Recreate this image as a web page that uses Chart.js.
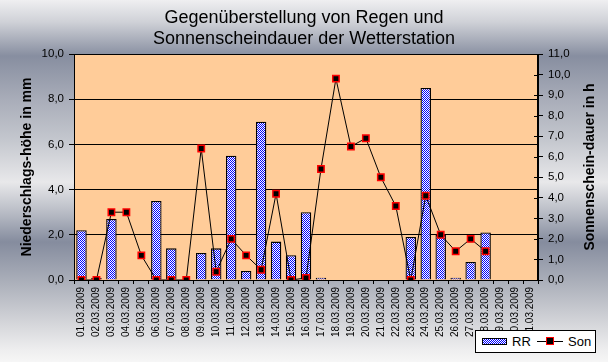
<!DOCTYPE html>
<html>
<head>
<meta charset="utf-8">
<script src="https://cdn.jsdelivr.net/npm/chart.js@4/dist/chart.umd.min.js"></script>
<style>
  html, body { margin: 0; padding: 0; }
  body {
    width: 608px; height: 362px; overflow: hidden; position: relative;
    background: linear-gradient(to bottom,
      #efeff1 0px, #cfd1d7 22px, #878ea0 56px, #a9adb9 100px, #c4c7ce 140px,
      #e8e8ea 182px, #b4b8c2 215px, #858c9e 242px, #aeb2bc 285px,
      #d6d7db 325px, #eeeeef 350px, #f6f6f6 362px);
    font-family: "Liberation Sans", Arial, sans-serif;
  }
  #c { position: absolute; left: 0; top: 0; }
  #legend {
    position: absolute; left: 475px; top: 330px; width: 121px; height: 23px;
    background: #fff; border: 1px solid #000; box-sizing: border-box;
    font-size: 13px; color: #000;
  }
  #legend .sw {
    position: absolute; left: 6px; top: 7px; width: 25px; height: 7px;
    border: 1px solid #000; box-sizing: border-box;
    background-image: repeating-conic-gradient(#0000ff 0 25%, #ffffff 0 50%);
    background-size: 2px 2px;
  }
  #legend .t1 { position: absolute; left: 36px; top: 3px; }
  #legend .ln { position: absolute; left: 61px; top: 10px; width: 26px; height: 1px; background: #000; }
  #legend .mk { position: absolute; left: 70px; top: 6px; width: 6px; height: 6px; background: #000; border: 1px solid #ff0000; }
  #legend .t2 { position: absolute; left: 92px; top: 3px; }
</style>
</head>
<body>
<canvas id="c" width="608" height="362"></canvas>
<div id="legend">
  <span class="sw"></span><span class="t1">RR</span>
  <span class="ln"></span><span class="mk"></span><span class="t2">Son</span>
</div>
<script>
const categories = ['01.03.2009','02.03.2009','03.03.2009','04.03.2009','05.03.2009','06.03.2009','07.03.2009','08.03.2009','09.03.2009','10.03.2009','11.03.2009','12.03.2009','13.03.2009','14.03.2009','15.03.2009','16.03.2009','17.03.2009','18.03.2009','19.03.2009','20.03.2009','21.03.2009','22.03.2009','23.03.2009','24.03.2009','25.03.2009','26.03.2009','27.03.2009','28.03.2009','29.03.2009','30.03.2009','31.03.2009'];
const rr  = [2.2, 0.1, 2.7, 0, 0, 3.5, 1.4, 0, 1.2, 1.4, 5.5, 0.4, 7.0, 1.7, 1.1, 3.0, 0.1, 0, 0, 0, 0, 0, 1.9, 8.5, 2.0, 0.1, 0.8, 2.1, 0, 0, 0];
const son = [0, 0, 3.3, 3.3, 1.2, 0, 0, 0, 6.4, 0.4, 2.0, 1.2, 0.5, 4.2, 0, 0.1, 5.4, 9.8, 6.5, 6.9, 5.0, 3.6, 0, 4.1, 2.2, 1.4, 2.0, 1.4, null, null, null];
const seriesNames = ['RR', 'Son'];
const titleLines = ['Gegenüberstellung von Regen und', 'Sonnenscheindauer der Wetterstation'];
const leftTitle = 'Niederschlags-höhe in mm';
const rightTitle = 'Sonnenschein-dauer in h';
const leftAxis = { min: 0, max: 10, step: 2 };
const rightAxis = { min: 0, max: 11, step: 1 };

const FONT = '"Liberation Sans", Arial, sans-serif';

// checkered blue pattern for bars
const pc = document.createElement('canvas');
pc.width = 2; pc.height = 2;
const pctx = pc.getContext('2d');
pctx.fillStyle = '#ffffff'; pctx.fillRect(0, 0, 2, 2);
pctx.fillStyle = '#0000ff'; pctx.fillRect(0, 0, 1, 1); pctx.fillRect(1, 1, 1, 1);
const ctx = document.getElementById('c').getContext('2d');
const pattern = ctx.createPattern(pc, 'repeat');

const fmt = v => Number(v).toFixed(1).replace('.', ',');

const decor = {
  id: 'decor',
  beforeDraw(chart) {
    const a = chart.chartArea, c = chart.ctx;
    c.save();
    c.fillStyle = '#ffcc99';
    c.fillRect(a.left, a.top, a.right - a.left, a.bottom - a.top);
    c.restore();
  },
  afterDraw(chart) {
    const a = chart.chartArea, c = chart.ctx;
    c.save();
    c.strokeStyle = '#000'; c.lineWidth = 1;
    c.strokeRect(Math.round(a.left) + 0.5, Math.round(a.top) + 0.5, Math.round(a.right - a.left) - 1, Math.round(a.bottom - a.top));
    // right-axis tick marks crossing into the plot
    const s1 = chart.scales.y1;
    c.beginPath();
    s1.ticks.forEach(t => {
      const y = Math.round(s1.getPixelForValue(t.value)) + 0.5;
      c.moveTo(a.right - 4, y); c.lineTo(a.right, y);
    });
    c.stroke();
    c.fillStyle = '#000';
    c.textAlign = 'center'; c.textBaseline = 'middle';
    c.font = '18px ' + FONT;
    c.fillText(titleLines[0], 304, 18);
    c.fillText(titleLines[1], 304, 39);
    c.font = 'bold 14px ' + FONT;
    const cy = (a.top + a.bottom) / 2;
    c.save(); c.translate(27, cy); c.rotate(-Math.PI / 2); c.fillText(leftTitle, 0, 0); c.restore();
    c.save(); c.translate(590, cy); c.rotate(-Math.PI / 2); c.fillText(rightTitle, 0, 0); c.restore();
    c.restore();
  }
};

new Chart(ctx, {
  data: {
    labels: categories,
    datasets: [
      {
        type: 'line', label: seriesNames[1], data: son, yAxisID: 'y1', order: 0,
        borderColor: '#000', borderWidth: 1, tension: 0, spanGaps: false,
        pointStyle: 'rect', pointRadius: 4.5, pointHoverRadius: 4.5,
        pointBackgroundColor: '#000', pointBorderColor: '#ff0000', pointBorderWidth: 1.5
      },
      {
        type: 'bar', label: seriesNames[0], data: rr, yAxisID: 'y', order: 1,
        backgroundColor: pattern, borderColor: '#000', borderWidth: 1.3,
        barPercentage: 0.7, categoryPercentage: 1.0
      }
    ]
  },
  options: {
    responsive: false, animation: false,
    events: [],
    layout: { padding: { top: 54, left: 0, right: 0, bottom: 0 } },
    plugins: { legend: { display: false }, title: { display: false }, tooltip: { enabled: false } },
    scales: {
      x: {
        type: 'category', offset: true,
        grid: { offset: true, drawOnChartArea: false, drawTicks: true, tickLength: 4, color: '#000', tickColor: '#000' },
        border: { color: '#000', width: 1 },
        ticks: { autoSkip: false, minRotation: 90, maxRotation: 90, padding: 3, color: '#000', font: { family: FONT, size: 10 } },
        afterFit(s) { s.height = 82; }
      },
      y: {
        position: 'left', min: leftAxis.min, max: leftAxis.max,
        grid: { color: '#000', lineWidth: 1, drawTicks: true, tickLength: 5, tickColor: '#000' },
        border: { color: '#000', width: 1 },
        ticks: { stepSize: leftAxis.step, padding: 5, color: '#000', font: { family: FONT, size: 11.5 }, callback: fmt },
        afterFit(s) { s.width = 74; }
      },
      y1: {
        position: 'right', min: rightAxis.min, max: rightAxis.max,
        grid: { drawOnChartArea: false, drawTicks: true, tickLength: 5, color: '#000', tickColor: '#000' },
        border: { color: '#000', width: 1 },
        ticks: { stepSize: rightAxis.step, padding: 5, color: '#000', font: { family: FONT, size: 11.5 }, callback: fmt },
        afterFit(s) { s.width = 70; }
      }
    }
  },
  plugins: [decor]
});
</script>
</body>
</html>
